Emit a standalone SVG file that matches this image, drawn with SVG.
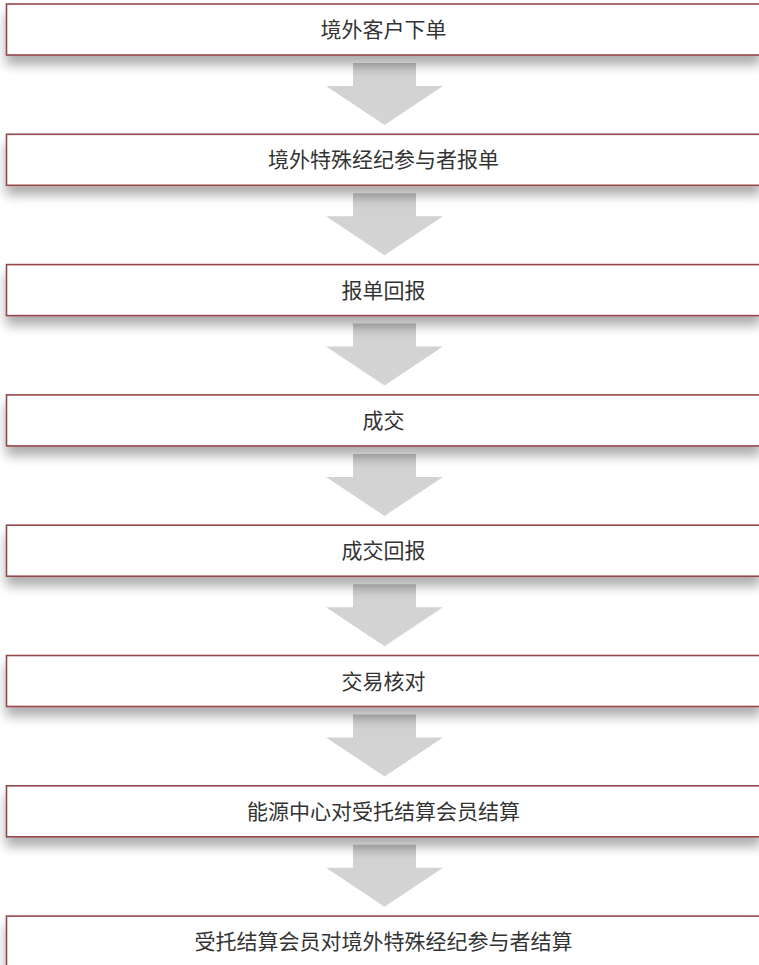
<svg xmlns="http://www.w3.org/2000/svg" width="759" height="965" viewBox="0 0 759 965">
<defs>
<filter id="sh" x="-5%" y="-30%" width="110%" height="200%">
<feGaussianBlur in="SourceAlpha" stdDeviation="6"/>
<feOffset dx="0" dy="9" result="b"/>
<feComponentTransfer><feFuncA type="linear" slope="0.33"/></feComponentTransfer>
<feMerge><feMergeNode/><feMergeNode in="SourceGraphic"/></feMerge>
</filter>
<linearGradient id="ag" x1="0" y1="0" x2="0" y2="1">
<stop offset="0" stop-color="#c4c4c4"/>
<stop offset="0.25" stop-color="#d2d2d2"/>
<stop offset="1" stop-color="#d4d4d4"/>
</linearGradient>
<path id="arr" d="M353,0 H416 V23 H443 L384.5,62 L326,23 H353 Z"/>
</defs>
<style>
.box{fill:#ffffff;stroke:#94474a;stroke-width:1.6;filter:url(#sh)}
.t{font-family:"Noto Sans CJK SC","Noto Sans",sans-serif;font-size:21px;fill:#333333;text-anchor:middle}
.a{fill:url(#ag)}
</style>
<rect width="759" height="965" fill="#ffffff"/>
<g id="connectors">
<use href="#arr" class="a" x="0" y="63"/>
<use href="#arr" class="a" x="0" y="193.3"/>
<use href="#arr" class="a" x="0" y="323.6"/>
<use href="#arr" class="a" x="0" y="453.9"/>
<use href="#arr" class="a" x="0" y="584.2"/>
<use href="#arr" class="a" x="0" y="714.5"/>
<use href="#arr" class="a" x="0" y="844.8"/>
</g>
<g id="n1"><rect class="box" x="6.5" y="4" width="754" height="51"/><text class="t" x="383.5" y="37">境外客户下单</text></g>
<g id="n2"><rect class="box" x="6.5" y="134.3" width="754" height="51"/><text class="t" x="383.5" y="167.3">境外特殊经纪参与者报单</text></g>
<g id="n3"><rect class="box" x="6.5" y="264.6" width="754" height="51"/><text class="t" x="383.5" y="297.6">报单回报</text></g>
<g id="n4"><rect class="box" x="6.5" y="394.9" width="754" height="51"/><text class="t" x="383.5" y="427.9">成交</text></g>
<g id="n5"><rect class="box" x="6.5" y="525.2" width="754" height="51"/><text class="t" x="383.5" y="558.2">成交回报</text></g>
<g id="n6"><rect class="box" x="6.5" y="655.5" width="754" height="51"/><text class="t" x="383.5" y="688.5">交易核对</text></g>
<g id="n7"><rect class="box" x="6.5" y="785.8" width="754" height="51"/><text class="t" x="383.5" y="818.8">能源中心对受托结算会员结算</text></g>
<g id="n8"><rect class="box" x="6.5" y="916.1" width="754" height="51"/><text class="t" x="383.5" y="949.1">受托结算会员对境外特殊经纪参与者结算</text></g>
</svg>
